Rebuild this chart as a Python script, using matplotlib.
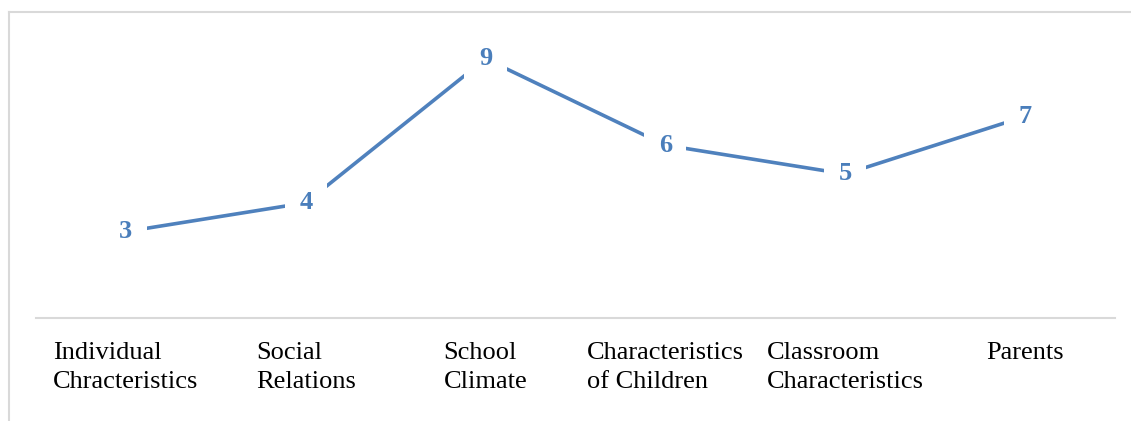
import matplotlib
matplotlib.use("Agg")
import matplotlib.pyplot as plt
from matplotlib.lines import Line2D

categories = ["Individual\nChracteristics", "Social\nRelations", "School\nClimate",
              "Characteristics\nof Children", "Classroom\nCharacteristics", "Parents"]
values = [3, 4, 9, 6, 5, 7]

W, H = 1131, 421
fig = plt.figure(figsize=(W / 100, H / 100), dpi=100)
ax = fig.add_axes([36 / W, 1 - 318 / H, (1115 - 36) / W, (318 - 30) / H])

line_color = "#4F81BD"
x = list(range(len(values)))
ax.plot(x, values, color=line_color, lw=2.6, solid_capstyle="butt", zorder=2)
for xi, v in zip(x, values):
    ax.text(xi, v, str(v), ha="center", va="center", fontsize=19, fontweight="bold",
            family="Liberation Serif", color="#4A7EBB", zorder=3,
            bbox=dict(boxstyle="square,pad=0.55", fc="white", ec="none"))

ax.set_xlim(-0.5, len(values) - 0.5)
ax.set_ylim(0, 10)
ax.set_yticks([])
ax.set_xticks(x)
ax.set_xticklabels(categories, family="Liberation Serif", fontsize=19, color="black",
                   multialignment="left", linespacing=1.45)
ax.tick_params(axis="x", length=0, pad=17)
for s in ["top", "right", "left"]:
    ax.spines[s].set_visible(False)
ax.spines["bottom"].set_color("#D9D9D9")
ax.spines["bottom"].set_linewidth(1.5)

# outer chart frame (partially visible)
fig.add_artist(Line2D([9 / W, 1], [1 - 12 / H, 1 - 12 / H], transform=fig.transFigure,
                      color="#D9D9D9", lw=1.5))
fig.add_artist(Line2D([9 / W, 9 / W], [0, 1 - 12 / H], transform=fig.transFigure,
                      color="#D9D9D9", lw=1.5))

fig.savefig("out.png", dpi=100, facecolor="white")
